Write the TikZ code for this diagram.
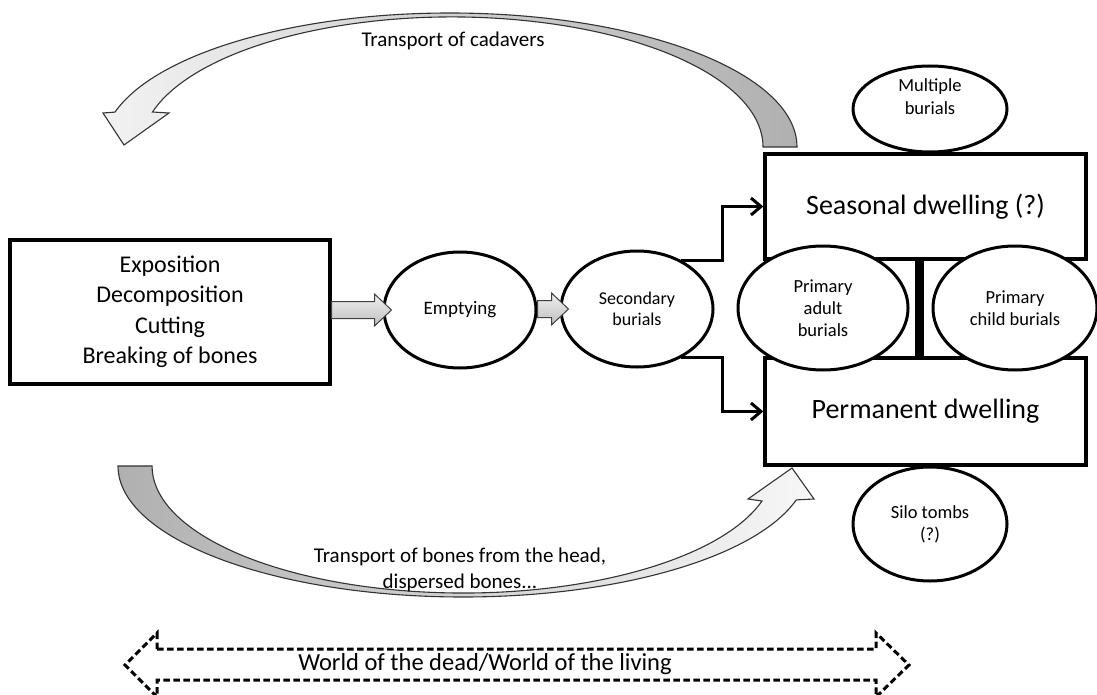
\documentclass[tikz,border=0pt]{standalone}
\usepackage{fontspec}
\setmainfont{Carlito}
\usetikzlibrary{shapes.geometric,arrows.meta,calc}
\newcommand\fsz[2]{\fontsize{#1}{#2}\selectfont}
\begin{document}
\begin{tikzpicture}[x=1pt,y=-1pt,
  box/.style={draw,line width=3.4pt,fill=white,inner sep=0pt,align=center},
  oval/.style={ellipse,draw,line width=3pt,fill=white,inner sep=0pt,align=center,font={\fsz{18.5}{22}}},
  conn/.style={line width=3pt,-{Straight Barb[length=10pt,width=17pt]}},
  fatarr/.style={draw=black!75,line width=1pt,top color=gray!12,bottom color=gray!50},
  curvarr/.style={draw=black!80,line width=1.1pt},
  dasharr/.style={line width=3pt,dash pattern=on 6.5pt off 3.5pt,line join=miter},
  lbl/.style={inner sep=0pt,align=center}]
\useasboundingbox (0,0) rectangle (1097,695);

% boxes
\node[box,minimum width=320pt,minimum height=144pt,font={\fsz{24}{30.5}}] (lbox) at (170,312)
  {Exposition\\Decomposition\\Cutting\\Breaking of bones};
\node[box,minimum width=321pt,minimum height=105pt,font={\fsz{28}{34}}] (seas) at (925.5,206.5) {Seasonal dwelling (?)};
\node[box,minimum width=321pt,minimum height=107pt,font={\fsz{28}{34}}] (perm) at (925.5,411.5) {Permanent dwelling};

% ellipses
\node[oval,minimum width=154pt,minimum height=86pt] (mult) at (930,109) {};
\node[lbl,font={\fsz{18.5}{23}}] (multt) at (930,97) {Multiple\\burials};
\node[oval,minimum width=154pt,minimum height=114pt] (silo) at (930,524) {Silo tombs\\(?)};
\node[oval,minimum width=152pt,minimum height=116pt,font={\fsz{19}{22}}] (emp) at (460,310) {Emptying};
\node[oval,minimum width=152pt,minimum height=116pt,font={\fsz{18}{21.5}}] (sec) at (637,309) {Secondary\\burials};
\node[oval,minimum width=170pt,minimum height=124pt] (adult) at (823,308) {Primary\\adult\\burials};
\node[oval,minimum width=164pt,minimum height=124pt] (child) at (1015,308) {Primary\\child burials};

% thick bar
\draw[line width=9pt] ($(seas.south)+(-6,0)$) -- ($(perm.north)+(-6,0)$);

% connectors
\draw[conn] (sec.48) -- ++(41,0) |- (seas.west);
\draw[conn] (sec.-48) -- ++(41,0) |- (perm.west);

% block arrows
\path[fatarr] let \p1=(lbox.east), \p2=($(emp.west)+(9,0)$) in
  (\x1,\y2+8.5pt) -- (\x2-17pt,\y2+8.5pt) -- (\x2-17pt,\y2+16pt) -- (\x2,\y2)
  -- (\x2-17pt,\y2-16pt) -- (\x2-17pt,\y2-8.5pt) -- (\x1,\y2-8.5pt) -- cycle;
\path[fatarr] let \p1=(emp.east), \p2=($(sec.west)+(9,0)$) in
  (\x1,\y2+8.5pt) -- (\x2-17pt,\y2+8.5pt) -- (\x2-17pt,\y2+16pt) -- (\x2,\y2)
  -- (\x2-17pt,\y2-16pt) -- (\x2-17pt,\y2-8.5pt) -- (\x1,\y2-8.5pt) -- cycle;

% curved arrows
\draw[curvarr,left color=gray!10,right color=gray!62]
  (797,147) arc[start angle=0,end angle=-164.9,x radius=347,y radius=134]
  -- (103,113) -- (124,145) -- (169,113) -- (152.5,112)
  arc[start angle=-164.4,end angle=0,x radius=311,y radius=130] -- cycle;
\node[lbl,font={\fsz{21}{25}}] (tcad) at (453,41) {Transport of cadavers};

\draw[curvarr,left color=gray!62,right color=gray!6]
  (118,466) arc[start angle=180,end angle=15,x radius=345,y radius=131]
  -- (814,499) -- (792,468) -- (748,499) -- (762,501)
  arc[start angle=16,end angle=180,x radius=311,y radius=127] -- cycle;
\node[lbl,font={\fsz{21}{26}}] (tbones) at (460,570) {Transport of bones from the head,\\dispersed bones...};

% dashed double arrow
\draw[dasharr] (157,649) -- (876,649) -- (876,633) -- (909,665) -- (876,697) -- (876,680)
  -- (157,680) -- (157,697) -- (125,665) -- (157,633) -- cycle;
\node[lbl,font={\fsz{24.5}{28}}] (world) at (485,664) {World of the dead/World of the living};
\end{tikzpicture}
\end{document}
